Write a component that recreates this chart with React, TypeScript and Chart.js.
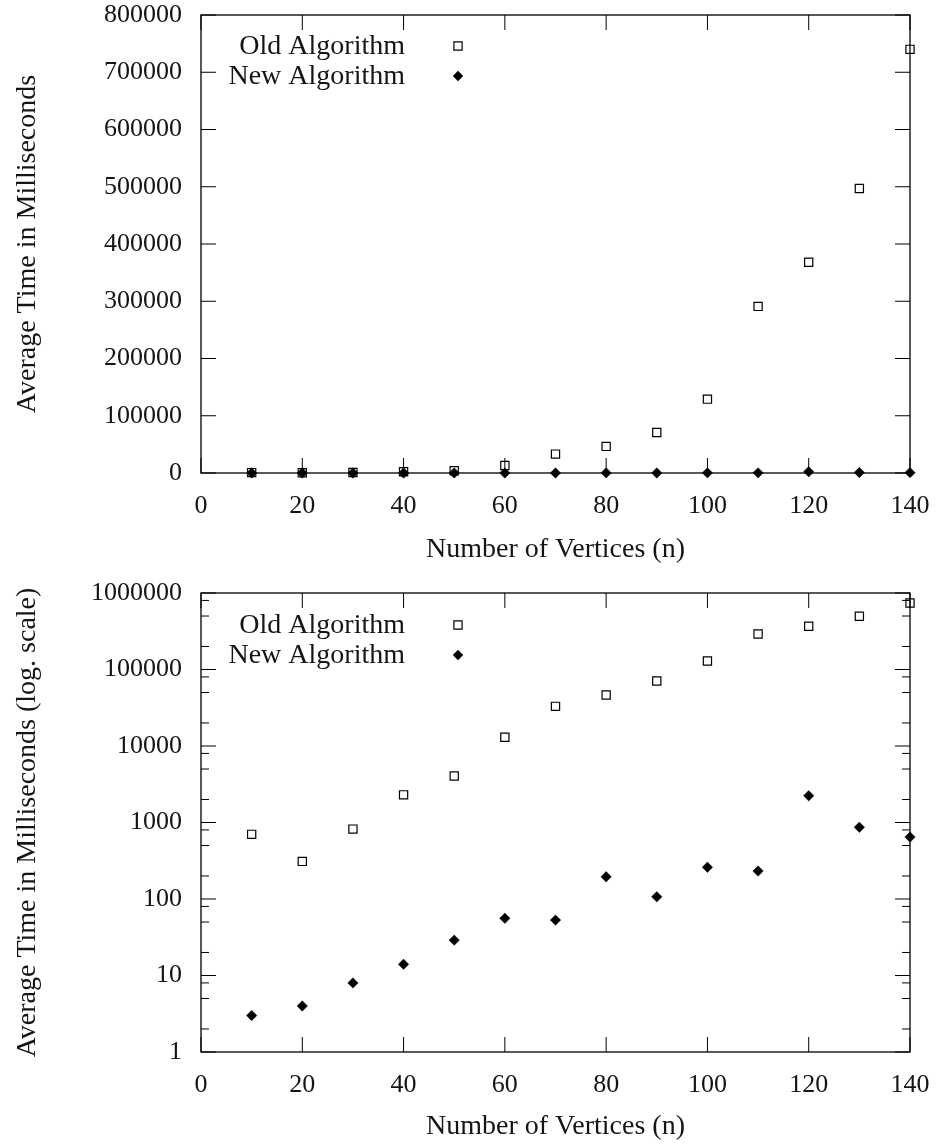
import React, { useEffect, useRef } from 'react';
import { Chart, registerables } from 'chart.js';

Chart.register(...registerables);

// ---- Data ----
const vertices = [10, 20, 30, 40, 50, 60, 70, 80, 90, 100, 110, 120, 130, 140];
const oldTimes = [700, 310, 820, 2300, 4050, 13000, 33000, 46500, 70700, 129000, 291000, 368000, 497000, 740000];
const newTimes = [3, 4, 8, 14, 29, 56, 53, 195, 107, 260, 232, 2240, 865, 645];

const seriesNames = ['Old Algorithm', 'New Algorithm'];
const xTicks = [0, 20, 40, 60, 80, 100, 120, 140];
const linearYTicks = [0, 100000, 200000, 300000, 400000, 500000, 600000, 700000, 800000];
const logYTicks = [1, 10, 100, 1000, 10000, 100000, 1000000];
const logMinorMultipliers = [2, 5, 8];

const xTitle = 'Number of Vertices (n)';
const yTitleLinear = 'Average Time in Milliseconds';
const yTitleLog = 'Average Time in Milliseconds (log. scale)';

const FONT = "'Liberation Serif', 'Times New Roman', serif";
const TEXT_COLOR = '#151515';

const MAJOR_TICK = 15;
const MINOR_TICK = 8;

const framePlugin = {
  id: 'gnuFrame',
  beforeDatasetsDraw(chart: any, _args: any, opts: any) {
    const ctx = chart.ctx;
    const { left, right, top, bottom } = chart.chartArea;
    const xs = chart.scales.x;
    const ys = chart.scales.y;
    ctx.save();
    ctx.strokeStyle = '#000';
    ctx.lineWidth = 1;
    const line = (x1: number, y1: number, x2: number, y2: number) => {
      ctx.beginPath();
      ctx.moveTo(x1, y1);
      ctx.lineTo(x2, y2);
      ctx.stroke();
    };
    for (const t of xs.ticks) {
      const px = xs.getPixelForValue(t.value);
      line(px, bottom, px, bottom - MAJOR_TICK);
      line(px, top, px, top + MAJOR_TICK);
    }
    for (const t of ys.ticks) {
      const py = ys.getPixelForValue(t.value);
      line(left, py, left + MAJOR_TICK, py);
      line(right, py, right - MAJOR_TICK, py);
    }
    if (opts.minor) {
      for (let i = 0; i < logYTicks.length - 1; i++) {
        for (const m of logMinorMultipliers) {
          const py = ys.getPixelForValue(logYTicks[i] * m);
          line(left, py, left + MINOR_TICK, py);
          line(right, py, right - MINOR_TICK, py);
        }
      }
    }
    ctx.lineWidth = 1.3;
    ctx.strokeRect(left, top, right - left, bottom - top);

    // legend (gnuplot style: text, then sample)
    ctx.font = `28px ${FONT}`;
    ctx.textAlign = 'right';
    ctx.textBaseline = 'middle';
    chart.data.datasets.forEach((ds: any, i: number) => {
      const y = top + opts.rowOffsets[i];
      ctx.fillStyle = TEXT_COLOR;
      ctx.fillText(ds.label, opts.textRight, y + 1);
      const mx = opts.markerX;
      ctx.beginPath();
      if (ds.pointStyle === 'rect') {
        const s = ds.pointRadius * Math.SQRT1_2;
        ctx.rect(mx - s, y - s, 2 * s, 2 * s);
        ctx.lineWidth = ds.borderWidth;
        ctx.strokeStyle = ds.borderColor;
        ctx.stroke();
      } else {
        const r = ds.pointRadius;
        ctx.moveTo(mx, y - r);
        ctx.lineTo(mx + r, y);
        ctx.lineTo(mx, y + r);
        ctx.lineTo(mx - r, y);
        ctx.closePath();
        ctx.fillStyle = ds.backgroundColor;
        ctx.fill();
      }
    });
    ctx.restore();
  },
};

function makeConfig(isLog: boolean, p: any) {
  const oldPts = vertices.map((v, i) => ({ x: v, y: oldTimes[i] }));
  const newPts = vertices.map((v, i) => ({ x: v, y: newTimes[i] }));
  const yTicks = isLog ? logYTicks : linearYTicks;
  return {
    type: 'scatter',
    data: {
      datasets: [
        {
          label: seriesNames[0],
          data: oldPts,
          pointStyle: 'rect',
          pointRadius: 5.8,
          pointHoverRadius: 5.8,
          borderWidth: 1.2,
          borderColor: '#000',
          backgroundColor: 'rgba(0,0,0,0)',
          clip: false,
        },
        {
          label: seriesNames[1],
          data: newPts,
          pointStyle: 'rectRot',
          pointRadius: 5.2,
          pointHoverRadius: 5.2,
          borderWidth: 0.5,
          borderColor: '#000',
          backgroundColor: '#000',
          clip: false,
        },
      ],
    },
    options: {
      responsive: false,
      animation: false,
      events: [],
      layout: { padding: { top: p.top, right: 29, left: 0, bottom: 0 } },
      plugins: {
        legend: { display: false },
        tooltip: { enabled: false },
        gnuFrame: {
          minor: isLog,
          textRight: 405,
          markerX: 458,
          rowOffsets: p.rowOffsets,
        },
      },
      scales: {
        x: {
          type: 'linear',
          min: 0,
          max: 140,
          afterBuildTicks: (s: any) => {
            s.ticks = xTicks.map((v) => ({ value: v }));
          },
          afterFit: (s: any) => {
            s.height = p.xAxisHeight;
            s.paddingLeft = 0;
            s.paddingRight = 0;
          },
          grid: { display: false, drawTicks: false, tickLength: 0 },
          border: { display: false },
          ticks: {
            padding: 18,
            maxRotation: 0,
            autoSkip: false,
            color: TEXT_COLOR,
            font: { family: FONT, size: 26, lineHeight: 1.2 },
            callback: (v: any) => String(v),
          },
          title: {
            display: true,
            text: xTitle,
            color: TEXT_COLOR,
            font: { family: FONT, size: 28, lineHeight: 1.2 },
            padding: { top: 0, bottom: p.xTitlePad },
          },
        },
        y: {
          type: isLog ? 'logarithmic' : 'linear',
          min: isLog ? 1 : 0,
          max: isLog ? 1000000 : 800000,
          afterBuildTicks: (s: any) => {
            s.ticks = yTicks.map((v) => ({ value: v }));
          },
          afterFit: (s: any) => {
            s.width = 201;
            s.paddingTop = 0;
            s.paddingBottom = 0;
          },
          grid: { display: false, drawTicks: false, tickLength: 0 },
          border: { display: false },
          ticks: {
            padding: 19,
            autoSkip: false,
            color: TEXT_COLOR,
            font: { family: FONT, size: 26, lineHeight: 1.1 },
            callback: (v: any) => String(v),
          },
          title: {
            display: true,
            text: isLog ? yTitleLog : yTitleLinear,
            color: TEXT_COLOR,
            font: { family: FONT, size: 28, lineHeight: 1.2 },
            padding: { top: 11, bottom: 0 },
          },
        },
      },
    },
    plugins: [framePlugin],
  };
}

function ChartCanvas(props: { isLog: boolean; params: any; top: number; height: number }) {
  const ref = useRef<HTMLCanvasElement | null>(null);
  useEffect(() => {
    if (!ref.current) return;
    const chart = new Chart(ref.current, makeConfig(props.isLog, props.params) as any);
    return () => chart.destroy();
  }, []);
  return (
    <canvas
      ref={ref}
      width={939}
      height={props.height}
      style={{ position: 'absolute', left: 0, top: props.top, width: 939, height: props.height, display: 'block' }}
    />
  );
}

export default function App() {
  return (
    <div style={{ position: 'absolute', left: 0, top: 0, width: 939, height: 1146, background: '#fff' }}>
      <ChartCanvas
        isLog={false}
        top={0}
        height={573}
        params={{ top: 15, xAxisHeight: 100, xTitlePad: 7, rowOffsets: [31, 61] }}
      />
      <ChartCanvas
        isLog={true}
        top={573}
        height={573}
        params={{ top: 20, xAxisHeight: 94, xTitlePad: 3, rowOffsets: [32, 62] }}
      />
    </div>
  );
}
